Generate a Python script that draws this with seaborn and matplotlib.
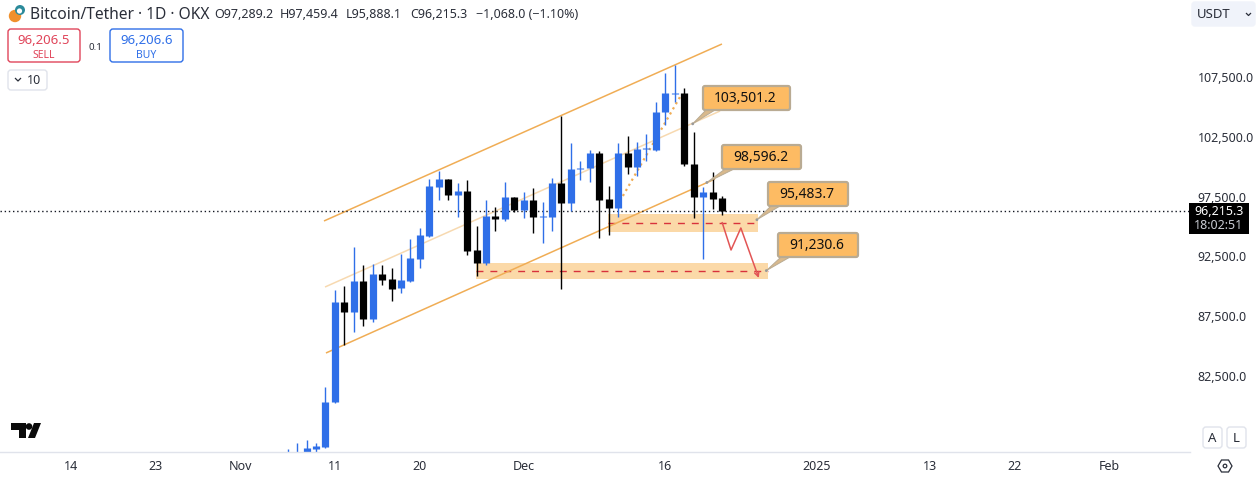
import matplotlib
matplotlib.use('Agg')
import matplotlib.pyplot as plt
import pandas as pd
import seaborn as sns
from matplotlib.patches import Circle, FancyBboxPatch, Polygon, Rectangle

# candles, days counted from Oct 14
candle_days = list(range(23, 70))
opens = [75800, 75900, 76070, 76320, 76480, 80250, 88610, 87770, 90360, 87180, 90950, 90530,
         89780, 90360, 92200, 94120, 98220, 98890, 97550, 97890, 92950, 91870, 95800, 95550,
         97380, 96300, 97130, 95710, 95710, 98550, 96880, 99730, 99810, 101060, 97220, 96460,
         101060, 99890, 101400, 101310, 104490, 106000, 106080, 100140, 97380, 97800, 97289.2]
highs = [76320, 76820, 77070, 76820, 81500, 89610, 89940, 93200, 91700, 91780, 91700, 91450,
         92620, 93870, 94790, 98890, 99560, 98890, 98550, 98810, 94960, 97130, 96550, 98640,
         97380, 97800, 98140, 96970, 98970, 104160, 101900, 100390, 101310, 101230, 98300, 101900,
         102480, 101980, 102650, 105330, 107750, 108420, 106500, 102820, 98220, 99470, 97459.4]
lows = [75600, 75600, 75800, 75900, 76400, 80160, 85010, 86100, 86600, 86930, 90030, 88690,
        89360, 90280, 91450, 94040, 97130, 97130, 95710, 92540, 90780, 91700, 94540, 95380,
        96130, 95630, 94370, 93540, 94540, 89690, 96210, 98810, 98640, 93960, 94210, 95710,
        99310, 99140, 100390, 101230, 103400, 105330, 99980, 95630, 92200, 96380, 95888.1]
closes = [75900, 76000, 76360, 76570, 80250, 88610, 87770, 90360, 87180, 90950, 90450, 89690,
          90450, 92280, 94210, 98300, 98890, 97550, 97890, 92870, 91870, 95800, 95550, 97380,
          96300, 97130, 95710, 95800, 98550, 96880, 99730, 99810, 101060, 97130, 96460, 101060,
          99890, 101400, 101480, 104490, 106080, 106080, 100140, 97380, 97800, 97220, 96215.3]

last_close = 96215.3

# drawings on the chart (day, price)
upper_days, upper_prices = [26.84, 69.0], [95380, 110175]
middle_days, middle_prices = [26.95, 68.8], [89860, 104574]
lower_days, lower_prices = [27.05, 68.26], [84343, 98889]
dotted_days, dotted_prices = [58.5, 64.55], [97470, 105744]
zone_days = [(56.9, 72.8), (42.9, 73.9)]
zone_prices = [(94458, 95963), (90529, 91867)]
zone_mids = [95211, 91198]
path_days = [69.0, 69.96, 71.0, 72.9]
path_prices = [95294, 92954, 94793, 90613]

callout_labels = ['103,501.2', '98,596.2', '95,483.7', '91,230.6']
callout_prices = [103501.2, 98596.2, 95483.7, 91230.6]
callout_days = [65.9, 67.4, 72.7, 73.7]
callout_boxes = [(703, 87, 87, 24), (722, 146, 79, 24), (768, 183, 80, 24), (778, 234, 80, 24)]

price_ticks = [107500, 102500, 97500, 92500, 87500, 82500]
date_ticks = [0, 9, 18, 28, 37, 48, 63, 79, 91, 100, 110]
date_labels = ['14', '23', 'Nov', '11', '20', 'Dec', '16', '2025', '13', '22', 'Feb']

BLUE = '#2f6fe8'
INK = '#131722'
GREY = '#2a2e39'
ORANGE = '#f0ad55'

sns.set_theme(style='white', rc={'lines.solid_capstyle': 'butt'})
plt.rcParams['font.family'] = ['Noto Sans', 'DejaVu Sans']

fig = plt.figure(figsize=(12.57, 4.81), dpi=100)
ax = fig.add_axes([0, 1 - 453 / 481, 1190 / 1257, 453 / 481])

df = pd.DataFrame({'day': candle_days, 'open': opens, 'high': highs, 'low': lows, 'close': closes})
df['side'] = ['up' if c >= o else 'down' for o, c in zip(df['open'], df['close'])]
palette = {'up': BLUE, 'down': 'black'}

wicks = df.melt(id_vars=['day', 'side'], value_vars=['high', 'low'], value_name='price')
bodies = df.melt(id_vars=['day', 'side'], value_vars=['open', 'close'], value_name='price')


def channel(days, prices, **kw):
    sns.lineplot(x=days, y=prices, ax=ax, estimator=None, sort=False, legend=False, **kw)


# zones
for (d0, d1), (p0, p1), mid in zip(zone_days, zone_prices, zone_mids):
    ax.add_patch(Rectangle((d0, p0), d1 - d0, p1 - p0, color='#fbd9a8', lw=0, zorder=1))
    ax.plot([d0, d1], [mid, mid], color='#d8323c', lw=1.0, ls=(0, (5, 5)), zorder=1.5)

channel(upper_days, upper_prices, color=ORANGE, lw=1.1)
channel(lower_days, lower_prices, color=ORANGE, lw=1.1)
channel(middle_days, middle_prices, color='#f7d9b0', lw=1.1)
channel(dotted_days, dotted_prices, color=ORANGE, lw=1.6, ls=':')

ax.axhline(last_close, color=INK, lw=1, ls=(0, (1, 2)))

sns.lineplot(data=wicks, x='day', y='price', hue='side', units='day', estimator=None, sort=False,
             palette=palette, lw=1.0, legend=False, ax=ax)
sns.lineplot(data=bodies, x='day', y='price', hue='side', units='day', estimator=None, sort=False,
             palette=palette, lw=5.2, legend=False, ax=ax)

channel(path_days[:3], path_prices[:3], color='#e25555', lw=1.1)
ax.annotate('', xy=(path_days[3], path_prices[3]), xytext=(path_days[2], path_prices[2]),
            arrowprops=dict(arrowstyle='->', color='#e25555', lw=1.1, shrinkA=0, shrinkB=0, mutation_scale=8))

ax.set_xlim(-7.48, 118.58)
ax.set_ylim(76066, 113937)
ax.set_xlabel('')
ax.set_ylabel('')
ax.set_xticks(date_ticks)
ax.set_xticklabels(date_labels)
ax.set_yticks(price_ticks)
ax.set_yticklabels([f'{p:,.1f}' for p in price_ticks])
ax.yaxis.tick_right()
ax.tick_params(axis='x', length=0, pad=5, labelsize=9, labelcolor=GREY)
ax.tick_params(axis='y', length=0, pad=5.5, labelsize=8.9, labelcolor=GREY)
for lab in ax.get_xticklabels():
    if lab.get_text() == '2025':
        lab.set_fontweight('bold')
for side in ['top', 'left', 'right']:
    ax.spines[side].set_visible(False)
ax.spines['bottom'].set_color('#e0e3eb')
ax.spines['bottom'].set_linewidth(1)
ax.set_facecolor('white')

# overlay in screen pixels for the interface bits
ui = fig.add_axes([0, 0, 1, 1])
ui.set_xlim(0, 1257)
ui.set_ylim(481, 0)
ui.set_axis_off()


def box(x, y, w, h, face='white', edge='#e0e3eb', lw=1, r=3):
    ui.add_patch(FancyBboxPatch((x + r, y + r), w - 2 * r, h - 2 * r, boxstyle=f'round,pad={r}',
                                fc=face, ec=edge, lw=lw))


def label(x, y, s, size=9, color=GREY, ha='center', **kw):
    ui.text(x, y, s, fontsize=size, color=color, ha=ha, va='center', **kw)


# callouts
fig.canvas.draw()
for text, price, day, (x, y, w, h) in zip(callout_labels, callout_prices, callout_days, callout_boxes):
    ax_x, ax_y = ax.transData.transform((day, price))
    tip = (ax_x, 481 - ax_y)
    ui.add_patch(Polygon([tip, (x + 3, y + h), (x + 12, y + h)], fc='#d9b98c', ec='#b9ab93', lw=0.7))
    ui.add_patch(Circle(tip, 1.4, fc='#9a9a9a', ec='none'))
    box(x, y, w, h, face='#fdbb63', edge='#b9ab93', lw=1.6, r=2)
    label(x + w / 2 - 1, y + h / 2, text, size=10, color='#111111', fontweight='bold')

# header
ui.add_patch(Circle((15, 17), 6.2, fc='#f0902c', ec='none'))
ui.add_patch(Circle((20, 11), 5, fc='#2b8a9a', ec='none'))
ui.add_patch(Circle((19.5, 12), 2.6, fc='white', ec='none'))
label(30, 15, 'Bitcoin/Tether · 1D · OKX', size=11.2, ha='left')
label(214, 15, 'O97,289.2', ha='left')
label(280, 15, 'H97,459.4', ha='left')
label(346, 15, 'L95,888.1', ha='left')
label(410, 15, 'C96,215.3', ha='left')
label(476, 15, '−1,068.0 (−1.10%)', ha='left')

box(8, 30, 72, 33, edge='#e0455a')
label(44, 41, '96,206.5', size=9.5, color='#e0455a')
label(44, 55, 'SELL', size=7.5, color='#e0455a')
label(95, 47, '0.1', size=7)
box(110, 30, 73, 33, edge='#2f6fe8')
label(146.5, 41, '96,206.6', size=9.5, color='#2f6fe8')
label(146.5, 55, 'BUY', size=7.5, color='#2f6fe8')

box(8, 71, 39, 20)
ui.plot([15, 18, 21], [79, 82, 79], color=GREY, lw=0.9)
label(34, 81, '10', size=9)

box(1192, 3, 63, 24, face='#f0f3fa', edge='#f0f3fa')
label(1197, 15, 'USDT', size=9.5, ha='left')
ui.plot([1246, 1248.5, 1251], [14, 16.5, 14], color=GREY, lw=0.9)

# last price tag
ui.add_patch(Rectangle((1189, 204), 60, 31, fc='black', ec='none'))
label(1219, 211.5, '96,215.3', size=9, color='white', fontweight='bold')
label(1219, 226, '18:02:51', size=9, color='#c9ccd3')

# watermark logo
ui.add_patch(Polygon([(11, 424), (26, 424), (26, 439), (19, 439), (19, 431), (11, 431)], fc='#0b0b0b', ec='none'))
ui.add_patch(Circle((29, 427.5), 3.3, fc='#0b0b0b', ec='none'))
ui.add_patch(Polygon([(34, 424), (41, 424), (35, 439), (28, 439)], fc='#0b0b0b', ec='none'))

# auto / log buttons and gear
box(1203, 428, 19, 21)
label(1212.5, 438.5, 'A', size=9.5)
box(1227, 428, 19, 21)
label(1236.5, 438.5, 'L', size=9.5)
ui.add_patch(Polygon([(1218, 467), (1221.5, 461), (1228.5, 461), (1232, 467), (1228.5, 473), (1221.5, 473)],
                     fc='white', ec=GREY, lw=0.9))
ui.add_patch(Circle((1225, 467), 1.8, fc='white', ec=GREY, lw=0.9))

fig.savefig('out.png', dpi=100, facecolor='white')
